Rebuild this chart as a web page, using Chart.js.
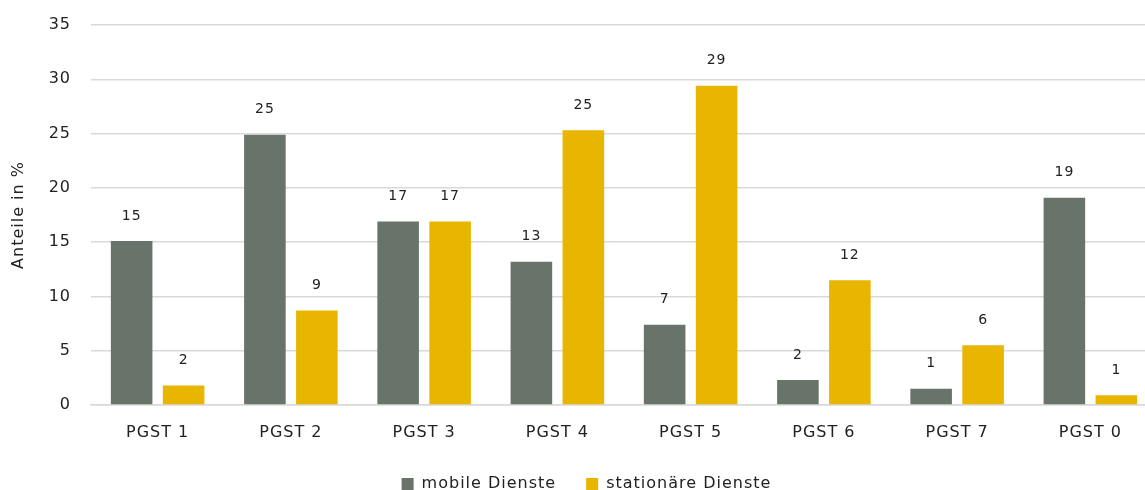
<!DOCTYPE html>
<html>
<head>
<meta charset="utf-8">
<script src="https://cdn.jsdelivr.net/npm/chart.js@4"></script>
<style>
    html, body { margin: 0; padding: 0; background: #fff; overflow: hidden; }
    /* Zeichenfläche etwas breiter, rechter Rand wird wie im Original abgeschnitten */
    #wrap { width: 1157px; height: 490px; position: relative; }
</style>
</head>
<body>
<div id="wrap"><canvas id="chart"></canvas></div>
<script>
// Pflegegrade und Anteile (in %)
const categories = ['PGST 1', 'PGST 2', 'PGST 3', 'PGST 4', 'PGST 5', 'PGST 6', 'PGST 7', 'PGST 0'];
const mobileValues = [15.1, 24.9, 16.9, 13.2, 7.4, 2.3, 1.5, 19.1];
const stationaerValues = [1.8, 8.7, 16.9, 25.3, 29.4, 11.5, 5.5, 0.9];
const mobileLabels = ['15', '25', '17', '13', '7', '2', '1', '19'];
const stationaerLabels = ['2', '9', '17', '25', '29', '12', '6', '1'];
const yTicks = [0, 5, 10, 15, 20, 25, 30, 35];

const FONT = 'DejaVu Sans';

// etwas Zeichenabstand wie im Original
const spacing = {
    id: 'spacing',
    beforeLayout(chart) { chart.ctx.letterSpacing = '1px'; },
    beforeDraw(chart) { chart.ctx.letterSpacing = '1px'; },
    afterLayout(chart) {
        // Legende etwas tiefer und nach rechts setzen
        const lg = chart.legend;
        if (lg) {
            lg.top += 3; lg.bottom += 3;
            lg.left += 8; lg.right += 8;
        }
    }
};

// Werte über den Balken
const valueLabels = {
    id: 'valueLabels',
    afterDatasetsDraw(chart) {
        const ctx = chart.ctx;
        const texts = [mobileLabels, stationaerLabels];
        ctx.save();
        ctx.font = '14px "' + FONT + '"';
        ctx.fillStyle = '#222';
        ctx.textAlign = 'center';
        ctx.textBaseline = 'middle';
        chart.data.datasets.forEach((ds, i) => {
            chart.getDatasetMeta(i).data.forEach((bar, j) => {
                ctx.fillText(texts[i][j], bar.x, bar.y - 25);
            });
        });
        ctx.restore();
    }
};

new Chart(document.getElementById('chart'), {
    type: 'bar',
    data: {
        labels: categories,
        datasets: [{
            label: 'mobile Dienste',
            data: mobileValues,
            backgroundColor: '#687369',
            borderColor: '#687369',
            barPercentage: 0.8,
            categoryPercentage: 0.78
        }, {
            label: 'stationäre Dienste',
            data: stationaerValues,
            backgroundColor: '#E8B500',
            borderColor: '#E8B500',
            barPercentage: 0.8,
            categoryPercentage: 0.78
        }]
    },
    options: {
        responsive: true,
        maintainAspectRatio: false,
        animation: false,
        layout: { padding: { top: 25, right: 0, left: 0, bottom: -9 } },
        plugins: {
            legend: {
                position: 'bottom',
                labels: {
                    boxWidth: 12,
                    boxHeight: 12,
                    padding: 30,
                    color: '#222',
                    font: { family: FONT, size: 16 }
                }
            },
            tooltip: { enabled: false }
        },
        scales: {
            x: {
                grid: { display: false, drawTicks: false },
                border: { color: '#d9d9d9', width: 1.5 },
                ticks: {
                    color: '#222',
                    padding: 18,
                    font: { family: FONT, size: 16 }
                },
                afterFit(scale) {
                    scale.height = 38;
                    scale.paddingLeft = 0;
                    scale.paddingRight = 0;
                }
            },
            y: {
                min: 0,
                max: 35,
                afterBuildTicks(scale) {
                    scale.ticks = yTicks.map(v => ({ value: v }));
                },
                grid: { color: '#d9d9d9', drawTicks: false, lineWidth: 1.5 },
                border: { display: false },
                ticks: {
                    color: '#222',
                    padding: 20,
                    font: { family: FONT, size: 16 }
                },
                title: {
                    display: true,
                    text: 'Anteile in %',
                    color: '#222',
                    padding: { top: 9, bottom: 0 },
                    font: { family: FONT, size: 16 }
                },
                afterFit(scale) {
                    scale.width = 91;
                    scale.paddingTop = 0;
                    scale.paddingBottom = 0;
                }
            }
        }
    },
    plugins: [spacing, valueLabels]
});
</script>
</body>
</html>
